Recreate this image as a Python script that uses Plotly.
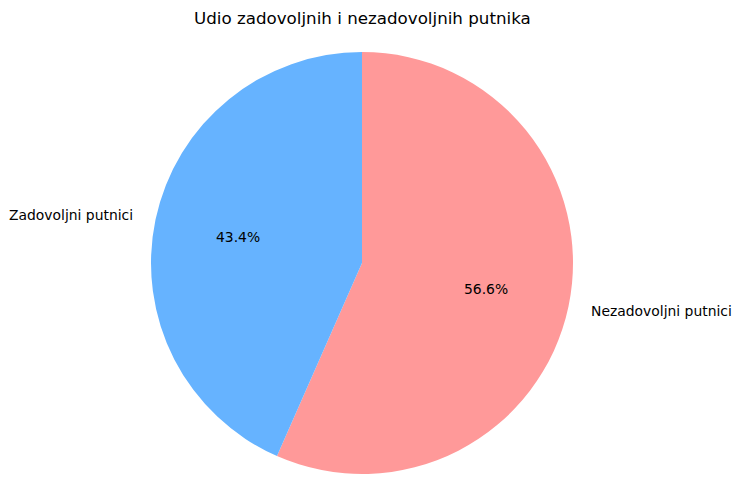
import math
import plotly.graph_objects as go

labels = ["Zadovoljni putnici", "Nezadovoljni putnici"]
values = [43.4, 56.6]
colors = ["#66b3ff", "#ff9999"]
title = "Udio zadovoljnih i nezadovoljnih putnika"

W, H = 740, 504
cx, cy, r = 362, 263, 211  # pie centre/radius in pixels

# Plotly lays out clockwise from 12 o'clock; reverse order to mimic matplotlib's
# counterclockwise layout starting at 90 degrees.
fig = go.Figure()
fig.add_trace(go.Pie(
    labels=labels[::-1], values=values[::-1], sort=False, direction="clockwise",
    rotation=0, marker=dict(colors=colors[::-1], line=dict(width=0)),
    textinfo="none", hoverinfo="label+percent", showlegend=False,
    domain=dict(x=[(cx - r) / W, (cx + r) / W], y=[1 - (cy + r) / H, 1 - (cy - r) / H]),
))

total = sum(values)
start = 90.0
font = dict(family="DejaVu Sans", size=13.9, color="black")
for lab, v in zip(labels, values):
    span = v / total * 360
    mid = math.radians(start + span / 2)
    start += span
    c, s = math.cos(mid), math.sin(mid)
    lx = (cx + 1.1 * r * c) / W
    ly = 1 - (cy - 1.1 * r * s) / H
    fig.add_annotation(x=lx, y=ly, xref="paper", yref="paper", text=lab, showarrow=False,
                       xanchor="right" if c < 0 else "left", yanchor="middle", font=font)
    px = (cx + 0.6 * r * c) / W
    py = 1 - (cy - 0.6 * r * s) / H
    fig.add_annotation(x=px, y=py, xref="paper", yref="paper", text=f"{v / total * 100:.1f}%",
                       showarrow=False, xanchor="center", yanchor="middle", font=font)

fig.add_annotation(x=cx / W, y=1 - 18 / H, xref="paper", yref="paper", text=title, showarrow=False,
                   xanchor="center", yanchor="middle",
                   font=dict(family="DejaVu Sans", size=16.7, color="black"))

fig.update_layout(width=W, height=H, margin=dict(l=0, r=0, t=0, b=0),
                  paper_bgcolor="white", plot_bgcolor="white")
fig.write_html("out.html")
